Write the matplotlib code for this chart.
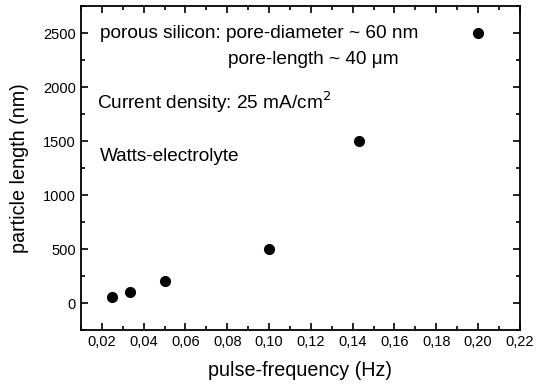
import matplotlib
matplotlib.use('Agg')
import matplotlib.pyplot as plt
from matplotlib.ticker import MultipleLocator, FuncFormatter

plt.rcParams['font.family'] = ['Liberation Sans', 'DejaVu Sans']

freq = [0.025, 0.0333, 0.05, 0.1, 0.1429, 0.2]
length = [60, 100, 200, 500, 1500, 2500]

fig = plt.figure(figsize=(5.36, 3.86), dpi=100)
ax = fig.add_axes([0.151, 0.145, 0.819, 0.839])

ax.plot(freq, length, 'o', color='black', markersize=7)

ax.set_xlim(0.01, 0.22)
ax.set_ylim(-250, 2750)
ax.xaxis.set_major_locator(MultipleLocator(0.02))
ax.xaxis.set_minor_locator(MultipleLocator(0.01))
ax.yaxis.set_major_locator(MultipleLocator(500))
ax.yaxis.set_minor_locator(MultipleLocator(250))
ax.xaxis.set_major_formatter(FuncFormatter(lambda v, p: f'{v:.2f}'.replace('.', ',')))

ax.tick_params(which='both', direction='in', top=True, right=True, labelsize=10.5, width=1.2)
ax.tick_params(which='major', length=5)
ax.tick_params(which='minor', length=3)
for s in ax.spines.values():
    s.set_linewidth(1.3)

ax.set_xlabel('pulse-frequency (Hz)', fontsize=14.2, labelpad=9)
ax.set_ylabel('particle length (nm)', fontsize=14.2, labelpad=10)

ax.text(0.0191, 2500, 'porous silicon: pore-diameter ~ 60 nm', fontsize=13.7, va='center')
ax.text(0.0803, 2253, 'pore-length ~ 40 \u03bcm', fontsize=13.7, va='center')
ax.text(0.0177, 1864, 'Current density: 25 mA/cm$^2$', fontsize=13.7, va='center')
ax.text(0.0191, 1355, 'Watts-electrolyte', fontsize=13.7, va='center')

fig.savefig('out.png', dpi=100)
